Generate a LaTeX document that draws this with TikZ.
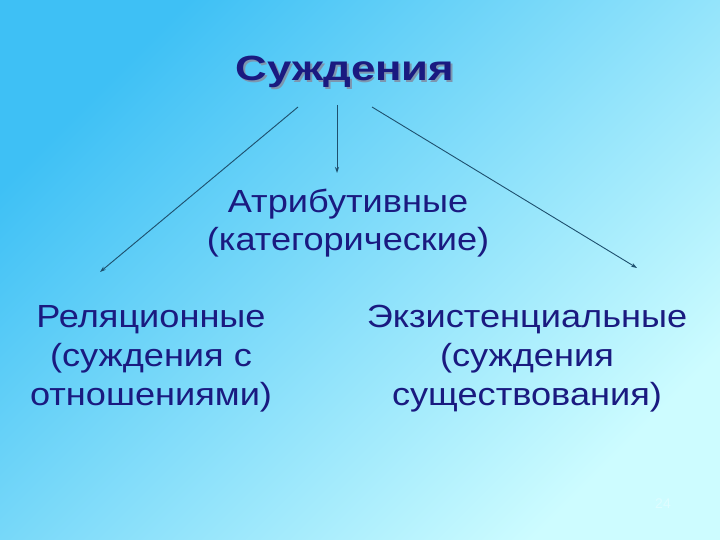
\documentclass[tikz,border=0pt]{standalone}
\usepackage{fontspec}
\usepackage{graphicx}
\setmainfont{Liberation Sans}
\usetikzlibrary{arrows.meta}
\definecolor{bgA}{RGB}{62,192,245}
\definecolor{bgB}{RGB}{205,252,255}
\definecolor{navy}{RGB}{26,26,128}
\definecolor{shad}{RGB}{125,150,175}
\definecolor{arr}{RGB}{30,80,110}
\newcommand{\sxx}[1]{\scalebox{1.13}[1]{#1}}
\newcommand{\titletext}[1]{\scalebox{1.25}[1]{\rlap{\raisebox{-1.5pt}{\kern1.5pt\textcolor{shad}{#1}}}#1}}
\tikzset{
  lbl/.style={text=navy, align=center, inner sep=0pt, anchor=base, font=\fontsize{32}{39}\selectfont},
  link/.style={draw=arr, line width=0.9pt, -{Stealth[length=6pt,width=4pt]}}
}
\begin{document}
\begin{tikzpicture}[x=1pt,y=-1pt]
\shade[top color=bgA, bottom color=bgB, shading angle=45] (0,0) rectangle (720,540);
\useasboundingbox (0,0) rectangle (720,540);
\node (title) [text=navy, font=\fontsize{35}{35}\selectfont\bfseries, anchor=base, inner sep=0pt] at (345,81) {\titletext{Суждения}};
\node (attr) [lbl] at (348,251) {\sxx{Атрибутивные}\\\sxx{(категорические)}};
\node (rel) [lbl] at (151,405) {\sxx{Реляционные}\\\sxx{(суждения с}\\\sxx{отношениями)}};
\node (ex) [lbl] at (527,405) {\sxx{Экзистенциальные}\\\sxx{(суждения}\\\sxx{существования)}};
\node (num) [text=white, opacity=0.35, font=\fontsize{14}{14}\selectfont] at (663,504) {24};
\coordinate (s1) at (298,107);
\coordinate (s2) at (337,105);
\coordinate (s3) at (372,107);
\coordinate (e1) at (100,272);
\coordinate (e2) at (337,173);
\coordinate (e3) at (637,268);
\draw[link] (s1) -- (e1);
\draw[link] (s2) -- (e2);
\draw[link] (s3) -- (e3);
\end{tikzpicture}
\end{document}
